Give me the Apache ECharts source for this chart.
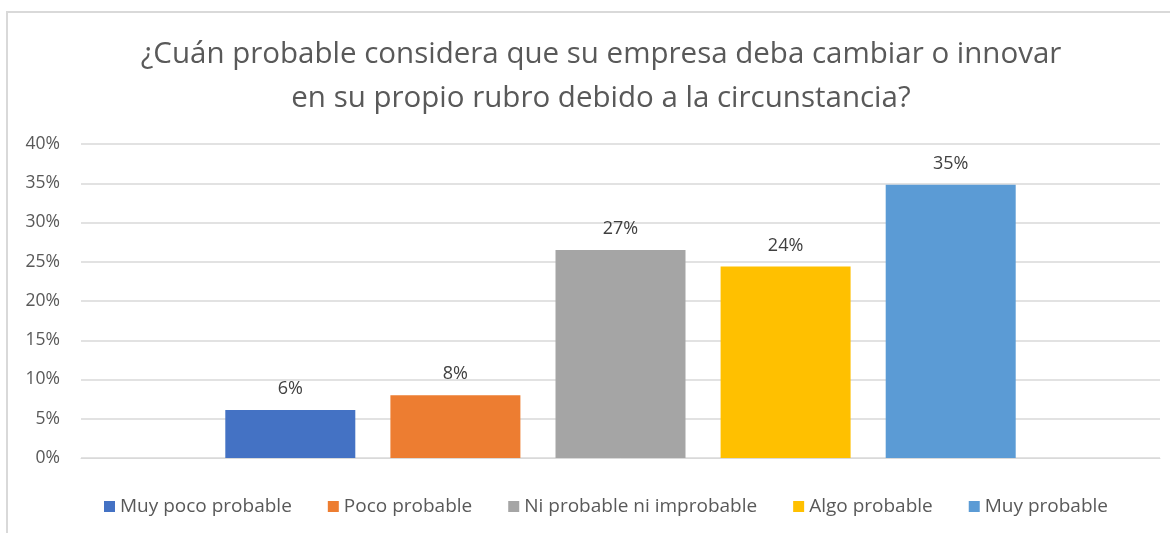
<!DOCTYPE html>
<html>
<head>
<meta charset="utf-8">
<script src="https://cdn.jsdelivr.net/npm/echarts@6/dist/echarts.min.js"></script>
<style>
  html, body { margin: 0; padding: 0; background: #fff; }
  .frame {
    position: absolute; left: 6px; top: 11px; width: 1170px; height: 533px;
    border-left: 2px solid #d9d9d9; border-top: 2px solid #d9d9d9;
  }
  #chart { position: absolute; left: 0; top: 0; width: 1170px; height: 533px; }
</style>
</head>
<body>
<div class="frame"></div>
<div id="chart"></div>
<script>
// 数据
const categories = ['']
const seriesNames = ['Muy poco probable', 'Poco probable', 'Ni probable ni improbable', 'Algo probable', 'Muy probable']
const seriesValues = [6.1, 8.0, 26.5, 24.4, 34.8]
const seriesColors = ['#4472c4', '#ed7d31', '#a5a5a5', '#ffc000', '#5b9bd5']
const yTicks = [0, 5, 10, 15, 20, 25, 30, 35, 40]

const titleText = '¿Cuán probable considera que su empresa deba cambiar o innovar\nen su propio rubro debido a la circunstancia?'
const baseFont = '"Open Sans", "Noto Sans", sans-serif'

const chart = echarts.init(document.getElementById('chart'))

const series = seriesNames.map((name, i) => ({
  name: name,
  type: 'bar',
  data: [seriesValues[i]],
  barWidth: 130,
  barGap: '27%',
  itemStyle: { color: seriesColors[i] },
  label: {
    show: true,
    position: 'top',
    distance: 12,
    color: '#404040',
    fontSize: 18,
    fontFamily: baseFont,
    formatter: p => Math.round(p.value) + '%'
  }
}))

const option = {
  animation: false,
  title: {
    text: titleText,
    left: 596,
    top: 28,
    textAlign: 'center',
    textStyle: {
      color: '#595959',
      fontSize: 29.5,
      fontWeight: 'normal',
      fontFamily: baseFont,
      lineHeight: 44
    }
  },
  legend: {
    data: seriesNames,
    bottom: 12,
    left: 99,
    itemWidth: 11,
    itemHeight: 11,
    itemGap: 36,
    icon: 'rect',
    textStyle: { color: '#595959', fontSize: 19, fontFamily: baseFont }
  },
  grid: { left: 81, right: 10, top: 144, height: 314 },
  xAxis: {
    type: 'category',
    data: categories,
    axisLine: { show: true, lineStyle: { color: '#d9d9d9' } },
    axisTick: { show: false },
    axisLabel: { show: false }
  },
  yAxis: {
    type: 'value',
    min: yTicks[0],
    max: yTicks[yTicks.length - 1],
    interval: 5,
    axisLine: { show: false },
    axisTick: { show: false },
    splitLine: { lineStyle: { color: '#d9d9d9', width: 1.5 } },
    axisLabel: {
      color: '#595959',
      fontSize: 17.5,
      fontFamily: baseFont,
      margin: 21,
      formatter: v => v + '%'
    }
  },
  series: series
}

chart.setOption(option)
</script>
</body>
</html>
